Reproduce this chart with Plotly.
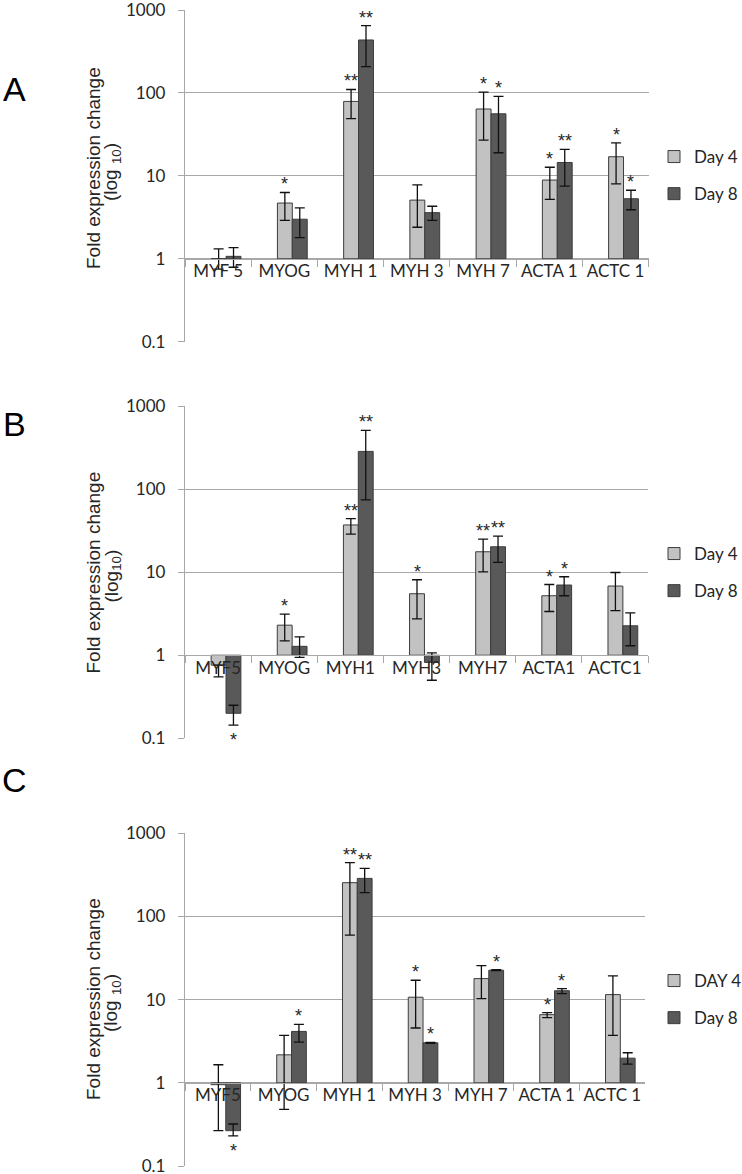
import math
import plotly.graph_objects as go

W, H = 742, 1174

# ---------------- data ----------------
tick_vals = [0.1, 1, 10, 100, 1000]
tick_text = ["0.1", "1", "10", "100", "1000"]

cats_A = ["MYF 5", "MYOG", "MYH 1", "MYH 3", "MYH 7", "ACTA 1", "ACTC 1"]
A_day4 = [1.0, 4.7, 79, 5.1, 64, 8.9, 17]
A_day4_hi = [1.32, 6.3, 110, 7.8, 102, 12.7, 25]
A_day4_lo = [0.75, 2.9, 49, 2.4, 27, 5.2, 8.0]
A_day8 = [1.07, 3.0, 435, 3.6, 56, 14.5, 5.3]
A_day8_hi = [1.36, 4.1, 648, 4.3, 91, 20.8, 6.7]
A_day8_lo = [0.79, 1.8, 207, 2.9, 19, 7.5, 3.9]
A_stars4 = ["", "*", "**", "", "*", "*", "*"]
A_stars8 = ["", "", "**", "", "*", "**", "*"]

cats_B = ["MYF5", "MYOG", "MYH1", "MYH3", "MYH7", "ACTA1", "ACTC1"]
B_day4 = [0.76, 2.3, 37, 5.5, 17.6, 5.2, 6.8]
B_day4_hi = [0.76, 3.12, 44, 8.1, 25, 7.1, 9.9]
B_day4_lo = [0.55, 1.49, 28.7, 2.74, 10.1, 3.36, 3.45]
B_day8 = [0.20, 1.28, 284, 0.82, 20.2, 7.0, 2.26]
B_day8_hi = [0.25, 1.66, 509, 1.07, 27.2, 8.8, 3.24]
B_day8_lo = [0.144, 0.94, 74, 0.5, 13.1, 5.2, 1.30]
B_stars4 = ["", "*", "**", "*", "**", "*", ""]
B_stars8 = ["*", "", "**", "", "**", "*", ""]

cats_C = ["MYF5", "MYOG", "MYH 1", "MYH 3", "MYH 7", "ACTA 1", "ACTC 1"]
C_day4 = [0.95, 2.17, 255, 10.7, 17.9, 6.6, 11.5]
C_day4_hi = [1.65, 3.72, 443, 17.1, 25.7, 6.97, 19.3]
C_day4_lo = [0.266, 0.48, 59.6, 4.56, 10.3, 6.07, 3.72]
C_day8 = [0.266, 4.15, 287, 3.03, 22.6, 12.8, 1.98]
C_day8_hi = [0.32, 5.05, 379, 3.07, 22.9, 13.6, 2.30]
C_day8_lo = [0.23, 3.09, 193, 2.99, 22.3, 11.8, 1.68]
C_stars4 = ["", "", "**", "*", "", "*", ""]
C_stars8 = ["*", "*", "**", "*", "*", "*", ""]

panels = [
    dict(letter="A", cats=cats_A, d4=A_day4, d4hi=A_day4_hi, d4lo=A_day4_lo,
         d8=A_day8, d8hi=A_day8_hi, d8lo=A_day8_lo, s4=A_stars4, s8=A_stars8,
         names=("Day 4", "Day 8"), sub="(log <sub>10</sub>)"),
    dict(letter="B", cats=cats_B, d4=B_day4, d4hi=B_day4_hi, d4lo=B_day4_lo,
         d8=B_day8, d8hi=B_day8_hi, d8lo=B_day8_lo, s4=B_stars4, s8=B_stars8,
         names=("Day 4", "Day 8"), sub="(log<sub>10</sub>)"),
    dict(letter="C", cats=cats_C, d4=C_day4, d4hi=C_day4_hi, d4lo=C_day4_lo,
         d8=C_day8, d8hi=C_day8_hi, d8lo=C_day8_lo, s4=C_stars4, s8=C_stars8,
         names=("DAY 4", "Day 8"), sub="(log <sub>10</sub>)"),
]

# ---------------- layout geometry (pixels) ----------------
geom = [
    dict(top=10, bottom=341.7, left=185, right=648.7, letter_y=89.5, title_y=168, legend_y=175.5),
    dict(top=406, bottom=738.3, left=185, right=648, letter_y=424, title_y=572.5, legend_y=572.5),
    dict(top=833.3, bottom=1166, left=185, right=645.3, letter_y=779.5, title_y=999, legend_y=999.5),
]

LIGHT = "#c2c2c2"
DARK = "#595959"
EDGE = "#3c3c3c"
GRID = "#a8a8a8"
TXT = "#262626"
FONT = "Lato, Liberation Sans, Arial, sans-serif"
AFONT = "Liberation Sans, Arial, sans-serif"

W_BAR = 0.225
OFF4 = -0.105
OFF8 = 0.12

fig = go.Figure()
annotations = []
layout = {}

def px_x(p):
    return p / W

def px_y(p):
    return 1 - p / H

for i, (p, g) in enumerate(zip(panels, geom)):
    n = "" if i == 0 else str(i + 1)
    xa, ya = "x" + n, "y" + n
    leg = "legend" + n
    for key, hi, lo, name, col, off, stars in (
        ("d4", "d4hi", "d4lo", p["names"][0], LIGHT, OFF4, p["s4"]),
        ("d8", "d8hi", "d8lo", p["names"][1], DARK, OFF8, p["s8"]),
    ):
        vals = p[key]
        fig.add_trace(go.Bar(
            x=p["cats"], y=[v - 1 for v in vals], base=1,
            width=W_BAR, offset=off, name=name,
            marker=dict(color=col, line=dict(color=EDGE, width=1)),
            error_y=dict(type="data", symmetric=False,
                         array=[h - v for h, v in zip(p[hi], vals)],
                         arrayminus=[v - l for v, l in zip(vals, p[lo])],
                         color="#111111", thickness=1.3, width=5),
            xaxis=xa, yaxis=ya, legend=leg, legendgroup=name + n,
            hoverinfo="skip",
        ))
        for j, s in enumerate(stars):
            if not s:
                continue
            above = vals[j] >= 1
            yv = p[hi][j] if above else p[lo][j]
            annotations.append(dict(
                x=j + off + W_BAR / 2, y=math.log10(yv), xref=xa, yref=ya,
                text=s, showarrow=False, font=dict(family=AFONT, size=18, color=TXT),
                yanchor="middle", xanchor="center",
                yshift=8 if above else -15,
            ))

    dom_x = [px_x(g["left"]), px_x(g["right"])]
    dom_y = [px_y(g["bottom"]), px_y(g["top"])]
    y_one = g["top"] + (g["bottom"] - g["top"]) * 0.75
    layout["xaxis" + n] = dict(
        domain=dom_x, type="category", range=[-0.5, 6.5], anchor="free",
        position=px_y(y_one), showline=True, linecolor=GRID, linewidth=1.3,
        ticks="outside", tickson="boundaries", ticklen=7, tickcolor=GRID, tickwidth=1.3,
        tickfont=dict(family=FONT, size=17, color=TXT), showgrid=False,
        tickangle=0, ticklabelstandoff=-3, fixedrange=True, automargin=False,
    )
    layout["yaxis" + n] = dict(
        domain=dom_y, type="log", range=[-1, 3], anchor=xa,
        tickvals=tick_vals, ticktext=tick_text,
        showgrid=True, gridcolor=GRID, gridwidth=1.3,
        showline=True, linecolor=GRID, linewidth=1.3,
        ticks="outside", ticklen=6, tickcolor=GRID, tickwidth=1.3,
        tickfont=dict(family=FONT, size=17, color=TXT), ticklabelstandoff=9,
        ticklabeloverflow="allow",
        zeroline=False, fixedrange=True, automargin=False,
    )
    layout[leg] = dict(
        x=px_x(654), xanchor="left", y=px_y(g["legend_y"]), yanchor="middle",
        font=dict(family=FONT, size=17, color=TXT), bgcolor="rgba(0,0,0,0)",
        traceorder="grouped", tracegroupgap=12, itemwidth=30,
    )
    # panel letter
    annotations.append(dict(
        x=px_x(14.5), y=px_y(g["letter_y"]), xref="paper", yref="paper",
        text=p["letter"], showarrow=False, xanchor="center", yanchor="middle",
        font=dict(family=AFONT, size=34, color="#000000"),
    ))
    # y-axis title (two lines)
    annotations.append(dict(
        x=px_x(93), y=px_y(g["title_y"]), xref="paper", yref="paper",
        text="Fold expression change", showarrow=False, textangle=-90,
        xanchor="center", yanchor="middle",
        font=dict(family=AFONT, size=19, color=TXT),
    ))
    annotations.append(dict(
        x=px_x(112), y=px_y(g["title_y"] + 4), xref="paper", yref="paper",
        text=p["sub"], showarrow=False, textangle=-90,
        xanchor="center", yanchor="middle",
        font=dict(family=AFONT, size=19, color=TXT),
    ))

fig.update_layout(
    width=W, height=H, autosize=False,
    margin=dict(l=0, r=0, t=0, b=0, autoexpand=False),
    paper_bgcolor="white", plot_bgcolor="white",
    barmode="overlay", annotations=annotations, showlegend=True,
    **layout,
)

fig.write_html("out.html", config={"displayModeBar": False},
               post_script="document.body.style.margin='0';document.body.style.overflow='hidden';")
